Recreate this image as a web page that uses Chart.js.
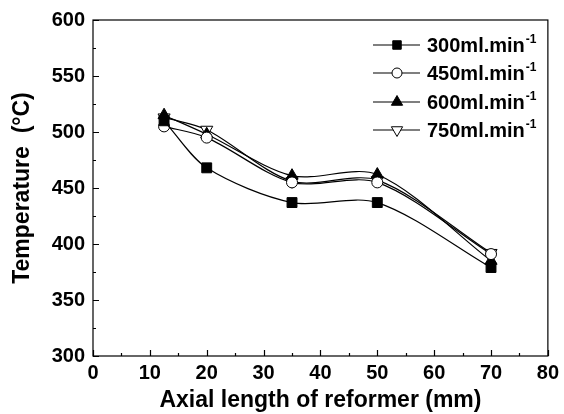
<!DOCTYPE html>
<html><head><meta charset="utf-8">
<script src="https://cdn.jsdelivr.net/npm/chart.js@4"></script>
<style>html,body{margin:0;padding:0;background:#fff;}#wrap{width:564px;height:414px;}</style>
</head><body><div id="wrap"><canvas id="c" width="564" height="414"></canvas></div>
<script>
const positions = [12.5, 20, 35, 50, 70];
const seriesNames = ['300ml.min', '450ml.min', '600ml.min', '750ml.min'];
const s300 = [510, 468, 437, 437, 379];
const s450 = [505, 495, 455, 455, 391];
const s600 = [515, 498, 461, 462, 385];
const s750 = [513, 502, 456, 457, 392];
const xTicks = [0, 10, 20, 30, 40, 50, 60, 70, 80];
const yTicks = [300, 350, 400, 450, 500, 550, 600];

const styles = [
  {pointStyle:'rect', fill:'#000', radius:7, rotation:0},
  {pointStyle:'circle', fill:'#fff', radius:5.5, rotation:0},
  {pointStyle:'triangle', fill:'#000', radius:7, rotation:0},
  {pointStyle:'triangle', fill:'#fff', radius:7, rotation:180}
];
const allSeries = [s300, s450, s600, s750];
const datasets = allSeries.map((s, i) => ({
  label: seriesNames[i],
  data: positions.map((x, j) => ({x: x, y: s[j]})),
  borderColor: '#000',
  borderWidth: 1.2,
  backgroundColor: styles[i].fill,
  pointBackgroundColor: styles[i].fill,
  pointBorderColor: '#000',
  pointBorderWidth: 1,
  pointStyle: styles[i].pointStyle,
  pointRadius: styles[i].radius,
  pointRotation: styles[i].rotation,
  tension: 0.3,
  fill: false
}));

const FONT = '"Liberation Sans", Arial, sans-serif';
Chart.defaults.font.family = FONT;
Chart.defaults.font.size = 20;
Chart.defaults.font.weight = 'bold';
Chart.defaults.color = '#000';

const framePlugin = {
  id: 'frame',
  afterDraw(chart) {
    const ctx = chart.ctx;
    const {left, right, top, bottom} = chart.chartArea;
    const xs = chart.scales.x, ys = chart.scales.y;
    ctx.save();
    ctx.strokeStyle = '#000';
    ctx.lineWidth = 1.2;
    ctx.strokeRect(left, top, right - left, bottom - top);
    ctx.beginPath();
    for (let v = 0; v <= 80; v += 5) {
      const px = Math.round(xs.getPixelForValue(v)) + 0.5;
      const len = (v % 10 === 0) ? 6 : 3;
      ctx.moveTo(px, bottom); ctx.lineTo(px, bottom - len);
    }
    for (let v = 300; v <= 600; v += 25) {
      const py = Math.round(ys.getPixelForValue(v)) + 0.5;
      const len = (v % 50 === 0) ? 6 : 3;
      ctx.moveTo(left, py); ctx.lineTo(left + len, py);
    }
    ctx.stroke();

    // legend
    const lx0 = 373, lx1 = 420, mx = 397, tx = 427;
    const rows = [45, 73, 102, 130];
    chart.data.datasets.forEach((ds, i) => {
      const y = rows[i];
      ctx.beginPath();
      ctx.lineWidth = 1.2;
      ctx.strokeStyle = '#000';
      ctx.moveTo(lx0, y); ctx.lineTo(lx1, y);
      ctx.stroke();
      ctx.fillStyle = styles[i].fill;
      ctx.strokeStyle = '#000';
      ctx.lineWidth = 1;
      const r = styles[i].pointStyle === 'rect' ? 6 : (styles[i].pointStyle === 'circle' ? 5 : 6.5);
      Chart.helpers.drawPoint(ctx, {pointStyle: styles[i].pointStyle, radius: r, rotation: styles[i].rotation, borderWidth: 1}, mx, y);
      ctx.fillStyle = '#000';
      ctx.textBaseline = 'alphabetic';
      ctx.textAlign = 'left';
      ctx.font = 'bold 20px ' + FONT;
      ctx.fillText(ds.label, tx, y + 7);
      const w = ctx.measureText(ds.label).width;
      ctx.font = 'bold 12px ' + FONT;
      ctx.fillText('-1', tx + w + 1, y - 2);
    });
    ctx.restore();
  }
};

new Chart(document.getElementById('c'), {
  type: 'line',
  data: {datasets},
  options: {
    responsive: false,
    animation: false,
    layout: {padding: {left: 0, right: 12, top: 20, bottom: 0}},
    plugins: {legend: {display: false}, tooltip: {enabled: false}},
    scales: {
      x: {
        type: 'linear', min: 0, max: 80,
        afterBuildTicks(scale) { scale.ticks = xTicks.map(v => ({value: v})); },
        afterFit(scale) { scale.height = 58; },
        grid: {display: false, drawTicks: false},
        border: {display: false},
        ticks: {color: '#000', font: {family: FONT, size: 20, weight: 'bold'}, padding: 5, maxRotation: 0},
        title: {display: true, text: 'Axial length of reformer (mm)', color: '#000', font: {family: FONT, size: 23, weight: 'bold'}, padding: {top: 0, bottom: 0}}
      },
      y: {
        type: 'linear', min: 300, max: 600,
        afterBuildTicks(scale) { scale.ticks = yTicks.map(v => ({value: v})); },
        afterFit(scale) { scale.width = 93; },
        grid: {display: false, drawTicks: false},
        border: {display: false},
        ticks: {color: '#000', font: {family: FONT, size: 20, weight: 'bold'}, padding: 8},
        title: {display: true, text: 'Temperature  (°C)', color: '#000', font: {family: FONT, size: 23, weight: 'bold'}, padding: {top: 9, bottom: 0}}
      }
    }
  },
  plugins: [framePlugin]
});
</script>
</body></html>
